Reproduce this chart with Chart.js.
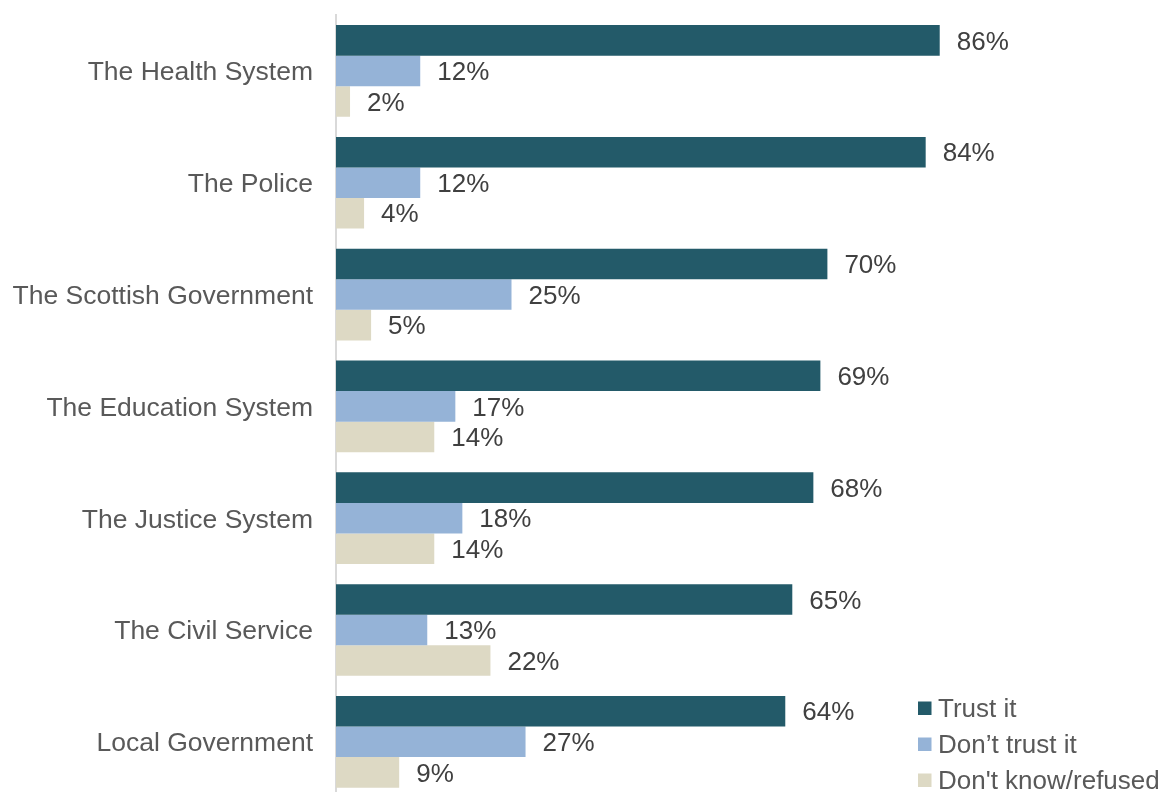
<!DOCTYPE html>
<html>
<head>
<meta charset="utf-8">
<title>Trust in institutions</title>
<script src="https://cdn.jsdelivr.net/npm/chart.js@4/dist/chart.umd.min.js"></script>
<style>
  html, body { margin: 0; padding: 0; background: #fff; overflow: hidden; }
  #wrap { position: relative; width: 1167px; height: 811px; }
</style>
</head>
<body>
<div id="wrap"><canvas id="chart"></canvas></div>
<script>
// Institutions, top to bottom
const categories = [
  'The Health System',
  'The Police',
  'The Scottish Government',
  'The Education System',
  'The Justice System',
  'The Civil Service',
  'Local Government'
];

// Share of respondents (%)
const trustIt     = [86, 84, 70, 69, 68, 65, 64];
const dontTrustIt = [12, 12, 25, 17, 18, 13, 27];
const dontKnow    = [2, 4, 5, 14, 14, 22, 9];

const seriesNames  = ['Trust it', 'Don\u2019t trust it', 'Don\'t know/refused'];
const seriesColors = ['#235a69', '#95b3d7', '#ddd9c4'];

const FONT = '"Liberation Sans", Arial, sans-serif';

// Percentage labels to the right of each bar
const valueLabels = {
  id: 'valueLabels',
  afterDatasetsDraw(chart) {
    const ctx = chart.ctx;
    ctx.save();
    ctx.font = '26px ' + FONT;
    ctx.fillStyle = '#404040';
    ctx.textAlign = 'left';
    ctx.textBaseline = 'middle';
    chart.data.datasets.forEach((ds, i) => {
      chart.getDatasetMeta(i).data.forEach((bar, j) => {
        ctx.fillText(ds.data[j] + '%', bar.x + 17, bar.y + 2);
      });
    });
    ctx.restore();
  }
};

// Legend stacked in the lower right corner
const cornerLegend = {
  id: 'cornerLegend',
  afterDraw(chart) {
    const ctx = chart.ctx;
    ctx.save();
    ctx.font = '26px ' + FONT;
    ctx.textAlign = 'left';
    ctx.textBaseline = 'middle';
    chart.data.datasets.forEach((ds, i) => {
      const y = 708 + i * 36;
      ctx.fillStyle = ds.backgroundColor;
      ctx.fillRect(918, y - 6.5, 13.5, 13.5);
      ctx.fillStyle = '#595959';
      ctx.fillText(ds.label, 938, y + 2);
    });
    ctx.restore();
  }
};

new Chart(document.getElementById('chart'), {
  type: 'bar',
  data: {
    labels: categories,
    datasets: [
      { label: seriesNames[0], data: trustIt,     backgroundColor: seriesColors[0] },
      { label: seriesNames[1], data: dontTrustIt, backgroundColor: seriesColors[1] },
      { label: seriesNames[2], data: dontKnow,    backgroundColor: seriesColors[2] }
    ]
  },
  options: {
    indexAxis: 'y',
    responsive: true,
    maintainAspectRatio: false,
    animation: false,
    layout: { padding: { top: 15, right: 129, bottom: 0, left: 0 } },
    datasets: {
      bar: { categoryPercentage: 0.82, barPercentage: 1.0, borderWidth: 0 }
    },
    plugins: {
      legend: { display: false },
      tooltip: { enabled: false }
    },
    scales: {
      x: {
        display: false,
        min: 0,
        max: 100
      },
      y: {
        grid: { display: false, drawTicks: true, tickLength: 23 },
        border: { display: true, color: '#d9d9d9', width: 2 },
        ticks: {
          color: '#595959',
          font: { family: FONT, size: 26.5, lineHeight: 1 },
          padding: 0,
          labelOffset: 2
        },
        afterFit(scale) { scale.width = 336; }
      }
    }
  },
  plugins: [valueLabels, cornerLegend]
});
</script>
</body>
</html>
